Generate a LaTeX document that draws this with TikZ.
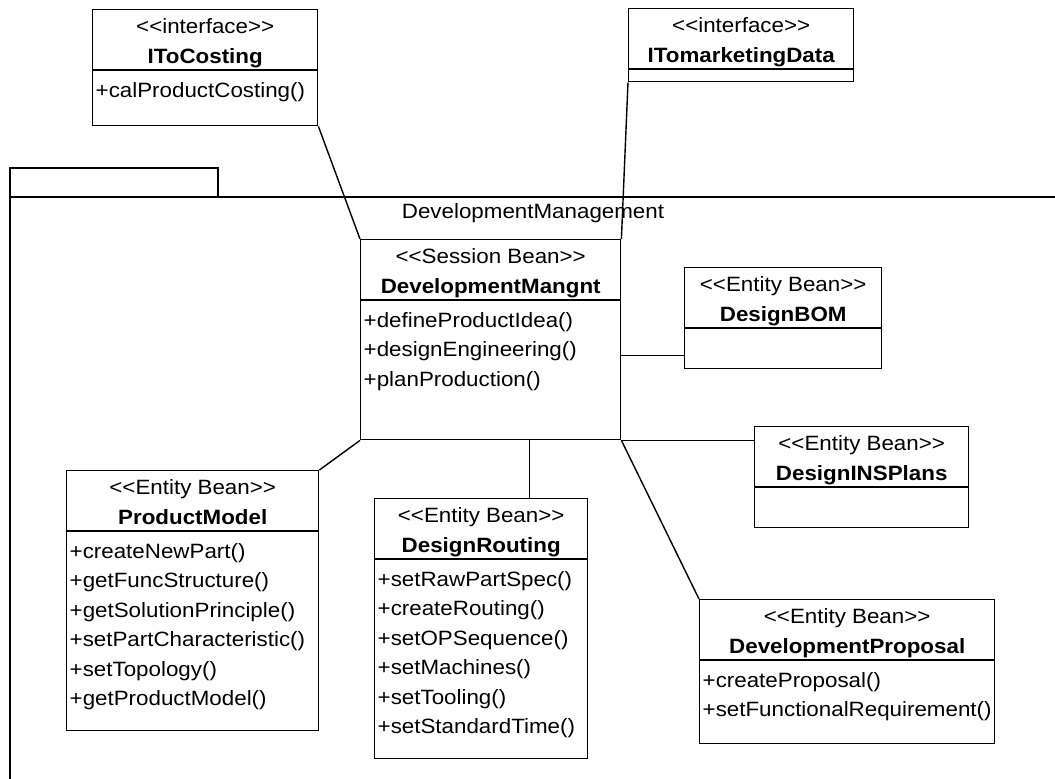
\documentclass[tikz,border=0pt]{standalone}
\usepackage{fontspec}
\setmainfont[FakeStretch=1.08]{Liberation Sans}
\usetikzlibrary{positioning}

\begin{document}
\begin{tikzpicture}[x=1pt,y=-1pt,line width=1.4pt,font=\fontsize{20.7}{24}\selectfont]
  \tikzset{classbox/.style = {draw,anchor=north west,inner sep=0pt}}
  \tikzset{stereo/.style = {anchor=base,inner sep=0pt}}
  \tikzset{cname/.style = {anchor=base,inner sep=0pt,font=\fontsize{20.7}{24}\selectfont\bfseries}}
  \tikzset{op/.style = {anchor=base west,inner sep=0pt}}

  \useasboundingbox (0,0) rectangle (1055,779);

  % package frame
  \draw (10,779) -- (10,168) -- (218,168) -- (218,197);
  \draw (10,197) -- (1055,197);
  \node[inner sep=0pt] (pkg) at (533,213) {DevelopmentManagement};

  % class boxes
  \node[classbox,minimum width=225pt,minimum height=116pt] (ITC) at (92,9) {};
  \node[classbox,minimum width=225pt,minimum height=73pt] (ITM) at (628,8) {};
  \node[classbox,minimum width=260pt,minimum height=200pt] (DM) at (360,239) {};
  \node[classbox,minimum width=197pt,minimum height=101pt] (BOM) at (684,267) {};
  \node[classbox,minimum width=214pt,minimum height=101pt] (INS) at (754,426) {};
  \node[classbox,minimum width=295pt,minimum height=144pt] (DP) at (699,599) {};
  \node[classbox,minimum width=252pt,minimum height=260pt] (PM) at (66,470) {};
  \node[classbox,minimum width=213pt,minimum height=260pt] (DR) at (374,498) {};

  \foreach \c in {ITC,ITM,DM,BOM,INS,DP,PM,DR}
    \draw ([yshift=-61pt]\c.north west) -- ([yshift=-61pt]\c.north east);

  % headers
  \foreach \c/\s/\n in {ITC/interface/IToCosting, ITM/interface/ITomarketingData,
      DM/Session Bean/DevelopmentMangnt, BOM/Entity Bean/DesignBOM,
      INS/Entity Bean/DesignINSPlans, DP/Entity Bean/DevelopmentProposal,
      PM/Entity Bean/ProductModel, DR/Entity Bean/DesignRouting} {
    \node[stereo] (\c-s) at ([yshift=-24pt]\c.north) {<{}<\s>{}>};
    \node[cname] (\c-n) at ([yshift=-54pt]\c.north) {\n};
  }

  % operations
  \foreach \m [count=\i from 0] in {calProductCosting()}
    \node[op] (ITC-m\i) at ([xshift=3pt,yshift={-88pt-29.5pt*\i}]ITC.north west) {+\m};
  \foreach \m [count=\i from 0] in {defineProductIdea(),designEngineering(),planProduction()}
    \node[op] (DM-m\i) at ([xshift=3pt,yshift={-88pt-29.5pt*\i}]DM.north west) {+\m};
  \foreach \m [count=\i from 0] in {createProposal(),setFunctionalRequirement()}
    \node[op] (DP-m\i) at ([xshift=3pt,yshift={-88pt-29.5pt*\i}]DP.north west) {+\m};
  \foreach \m [count=\i from 0] in {createNewPart(),getFuncStructure(),getSolutionPrinciple(),
      setPartCharacteristic(),setTopology(),getProductModel()}
    \node[op] (PM-m\i) at ([xshift=3pt,yshift={-88pt-29.5pt*\i}]PM.north west) {+\m};
  \foreach \m [count=\i from 0] in {setRawPartSpec(),createRouting(),setOPSequence(),
      setMachines(),setTooling(),setStandardTime()}
    \node[op] (DR-m\i) at ([xshift=3pt,yshift={-88pt-29.5pt*\i}]DR.north west) {+\m};

  % links
  \foreach \from/\to in {ITC.south east/DM.north west, ITM.south west/DM.north east,
      DM.south east/DP.north west, DM.south west/PM.north east}
    \draw (\from) -- (\to);
  \draw ([yshift=14pt]BOM.south west) -- ([yshift=14pt]BOM.south west -| DM.east);
  \draw (DM.south east) -- (DM.south east -| INS.west);
  \draw ([xshift=48pt]DR.north) -- ([xshift=48pt]DR.north |- DM.south);
\end{tikzpicture}
\end{document}
